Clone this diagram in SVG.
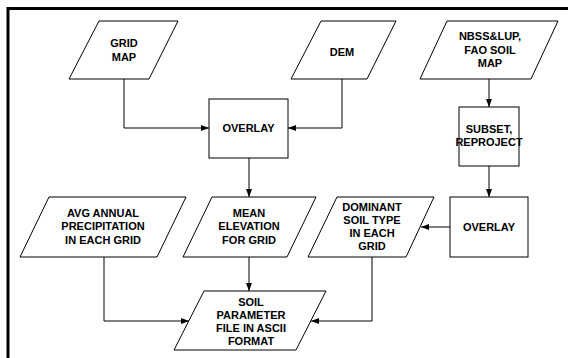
<svg xmlns="http://www.w3.org/2000/svg" width="568" height="358" viewBox="0 0 568 358">
<style>
.s{fill:#fff;stroke:#000;stroke-width:1}
.c{fill:none;stroke:#000;stroke-width:1}
text{font-family:"Liberation Sans",Arial,sans-serif;font-weight:bold;font-size:11px;text-anchor:middle;fill:#000}
</style>
<defs>
<marker id="a" markerWidth="8" markerHeight="6" refX="8" refY="3" orient="auto" markerUnits="userSpaceOnUse">
<path d="M0,0 L8,3 L0,6 Z" fill="#000"/>
</marker>
</defs>
<rect width="568" height="358" fill="#fff"/>
<path d="M8,358 V8.5 H568" fill="none" stroke="#000" stroke-width="3"/>
<g id="connectors">
<path class="c" d="M124,79 V128 H209" marker-end="url(#a)"/>
<path class="c" d="M342,79 V128 H288" marker-end="url(#a)"/>
<path class="c" d="M489,79 V107" marker-end="url(#a)"/>
<path class="c" d="M489,166 V197" marker-end="url(#a)"/>
<path class="c" d="M450,227 H421" marker-end="url(#a)"/>
<path class="c" d="M249,158 V197" marker-end="url(#a)"/>
<path class="c" d="M249,257 V291" marker-end="url(#a)"/>
<path class="c" d="M104,257 V321 H189" marker-end="url(#a)"/>
<path class="c" d="M372,257 V321 H311" marker-end="url(#a)"/>
</g>
<g id="gridmap">
<polygon class="s" points="99,21 178,21 149,79 69,79"/>
<text x="124" y="47">GRID</text>
<text x="124" y="61">MAP</text>
</g>
<g id="dem">
<polygon class="s" points="321,21 396,21 367,79 291,79"/>
<text x="342" y="56">DEM</text>
</g>
<g id="nbss">
<polygon class="s" points="447,21 558,21 531,79 420,79"/>
<text x="490" y="40">NBSS&amp;LUP,</text>
<text x="490" y="54">FAO SOIL</text>
<text x="490" y="67">MAP</text>
</g>
<g id="overlay1">
<rect class="s" x="209" y="99" width="79" height="59"/>
<text x="248.5" y="132">OVERLAY</text>
</g>
<g id="subset">
<rect class="s" x="459" y="107" width="60" height="59"/>
<text x="489" y="133">SUBSET,</text>
<text x="489" y="146">REPROJECT</text>
</g>
<g id="overlay2">
<rect class="s" x="450" y="197" width="78" height="60"/>
<text x="489" y="231">OVERLAY</text>
</g>
<g id="avg">
<polygon class="s" points="49,197 186,197 157,257 20,257"/>
<text x="103" y="217">AVG ANNUAL</text>
<text x="103" y="230">PRECIPITATION</text>
<text x="103" y="244">IN EACH GRID</text>
</g>
<g id="mean">
<polygon class="s" points="212,197 316,197 287,257 183,257"/>
<text x="249" y="217">MEAN</text>
<text x="249" y="230">ELEVATION</text>
<text x="249" y="244">FOR GRID</text>
</g>
<g id="dominant">
<polygon class="s" points="337,197 434,197 406,257 308,257"/>
<text x="372" y="211">DOMINANT</text>
<text x="372" y="224">SOIL TYPE</text>
<text x="372" y="237">IN EACH</text>
<text x="372" y="250">GRID</text>
</g>
<g id="soilparam">
<polygon class="s" points="204,291 326,291 296,350 174,350"/>
<text x="251" y="306">SOIL</text>
<text x="251" y="319">PARAMETER</text>
<text x="251" y="332">FILE IN ASCII</text>
<text x="251" y="345">FORMAT</text>
</g>
</svg>
